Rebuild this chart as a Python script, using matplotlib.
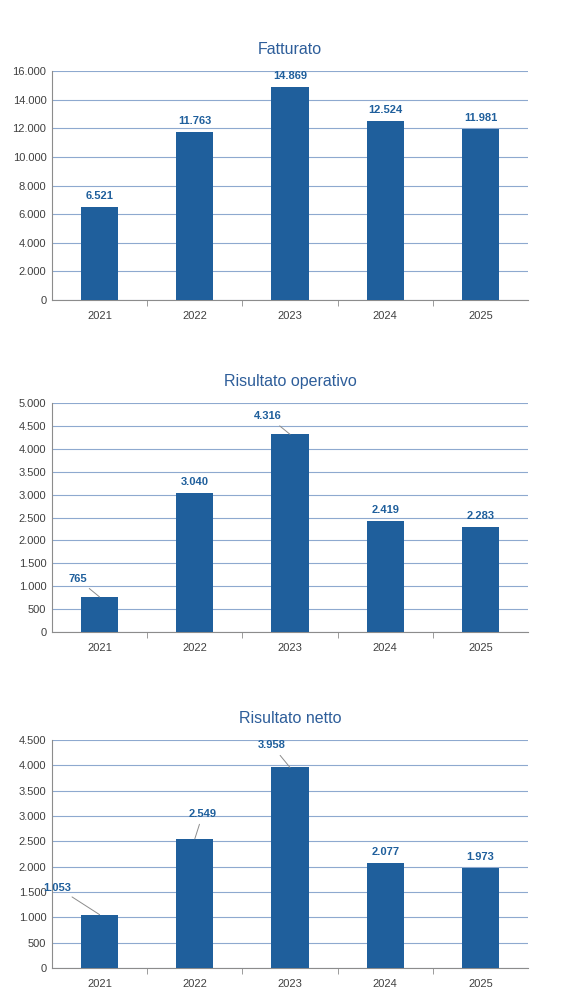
import numpy as np
import matplotlib.pyplot as plt

years = ["2021", "2022", "2023", "2024", "2025"]
fatturato = [6521, 11763, 14869, 12524, 11981]
operativo = [765, 3040, 4316, 2419, 2283]
netto = [1053, 2549, 3958, 2077, 1973]

titles = ["Fatturato", "Risultato operativo", "Risultato netto"]
series = [fatturato, operativo, netto]
ymax = [16000, 5000, 4500]
steps = [2000, 500, 500]
# label offsets in pixels (dx, dy) from bar top; None = plain label above bar
offsets = [
    [None] * 5,
    [(-22, 18), None, (-22, 18), None, None],
    [(-42, 27), (8, 25), (-18, 22), None, None],
]

bar_color = "#1F5F9C"
grid_color = "#8EA9CF"
text_color = "#1F5F9C"

def fmt(v):
    return f"{v:,}".replace(",", ".")

W, H = 579, 1006
fig = plt.figure(figsize=(W / 100, H / 100), dpi=100)
plt.rcParams['font.family'] = ['Liberation Sans', 'DejaVu Sans']

# axes boxes in pixels: (top, bottom), title y
boxes = [(71, 300, 44), (403, 632, 380), (740, 968, 714)]
left, right = 52, 528

for i, (vals, title) in enumerate(zip(series, titles)):
    top, bottom, ty = boxes[i]
    ax = fig.add_axes([left / W, 1 - bottom / H, (right - left) / W, (bottom - top) / H])
    x = np.arange(len(years))
    ax.bar(x, vals, width=0.39, color=bar_color, zorder=3)
    ax.set_xlim(-0.5, 4.5)
    ax.set_ylim(0, ymax[i])
    yt = np.arange(0, ymax[i] + 1, steps[i])
    ax.set_yticks(yt)
    ax.set_yticklabels([fmt(v) for v in yt], fontsize=8, color="#404040")
    ax.set_xticks(x)
    ax.set_xticklabels(years, fontsize=8, color="#404040")
    ax.set_xticks(np.arange(0.5, 4.5, 1), minor=True)
    ax.tick_params(axis='x', which='major', length=0, pad=8)
    ax.tick_params(axis='x', which='minor', length=4, color="#8c8c8c", direction='out')
    ax.tick_params(axis='y', length=0, pad=4)
    ax.yaxis.grid(True, color=grid_color, linewidth=0.8, zorder=0)
    for s in ['top', 'right']:
        ax.spines[s].set_visible(False)
    ax.spines['left'].set_color("#8c8c8c")
    ax.spines['bottom'].set_color("#8c8c8c")
    ax.set_title(title, fontsize=11.5, color="#2E5E9A", pad=12)
    for j, v in enumerate(vals):
        off = offsets[i][j]
        if off is None:
            ax.annotate(fmt(v), (j, v), xytext=(0, 6), textcoords='offset pixels',
                        ha='center', va='bottom', fontsize=8, fontweight='bold', color=text_color)
        else:
            ax.annotate(fmt(v), (j, v), xytext=off, textcoords='offset pixels',
                        ha='center', va='center', fontsize=8, fontweight='bold', color=text_color,
                        arrowprops=dict(arrowstyle='-', color="#8c8c8c", lw=0.7,
                                        shrinkA=2, shrinkB=0))

fig.savefig("out.png", dpi=100)
